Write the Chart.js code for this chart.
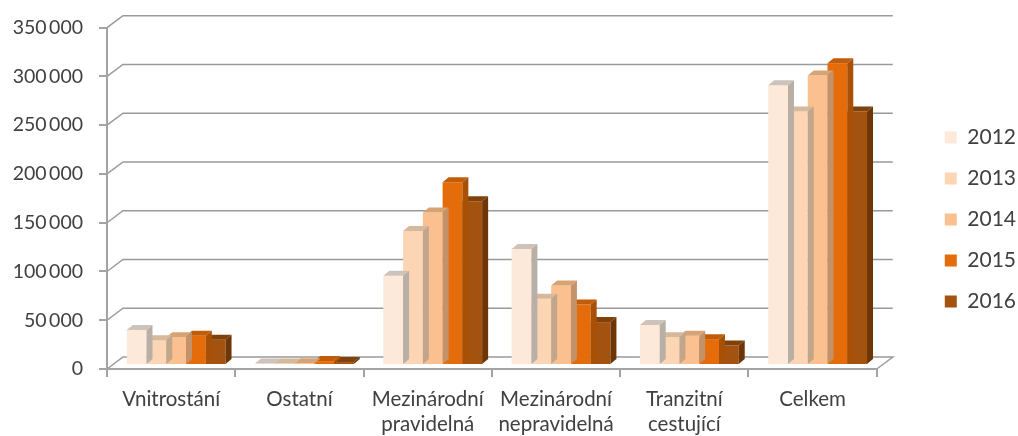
<!DOCTYPE html>
<html>
<head>
<meta charset="utf-8">
<script src="https://cdn.jsdelivr.net/npm/chart.js@4.4.1/dist/chart.umd.min.js"></script>
<style>
  html, body { margin: 0; padding: 0; background: #ffffff; }
  #wrap { width: 1018px; height: 436px; position: relative; }
</style>
</head>
<body>
<div id="wrap"><canvas id="chart" width="1018" height="436"></canvas></div>
<script>
// Passenger numbers by category and year
const categories = [
  ['Vnitrostání'],
  ['Ostatní'],
  ['Mezinárodní', 'pravidelná'],
  ['Mezinárodní', 'nepravidelná'],
  ['Tranzitní', 'cestující'],
  ['Celkem']
];
const years = ['2012', '2013', '2014', '2015', '2016'];
const values2012 = [36000, 1500, 91500, 119000, 41000, 287000];
const values2013 = [25500, 1500, 137500, 68000, 28500, 260000];
const values2014 = [28500, 1800, 156500, 81500, 30000, 297000];
const values2015 = [30000, 4000, 187500, 62000, 26500, 309500];
const values2016 = [26000, 3000, 168000, 44000, 20000, 260000];
const yMin = 0;
const yMax = 350000;
const yStep = 50000;

const seriesValues = [values2012, values2013, values2014, values2015, values2016];

// Front, top and side face colours of the 3D columns
const frontColors = ['#fde9d9', '#fcd5b4', '#fac08f', '#e46c0a', '#a3530f'];
const topColors   = ['#cdc3ba', '#d6b89c', '#d7a375', '#c25c08', '#80410a'];
const sideColors  = ['#b8afa7', '#c2a68c', '#c49268', '#a85006', '#6e3606'];

const FONT = 'Lato, "Open Sans", sans-serif';
const TEXT = '#404040';
const AXIS = '#a3a3a3';
const GRID = '#9a9a9a';

// Oblique projection offsets
const WALL = { x: 16, y: -12 };     // back wall relative to the front axis plane
const SHIFT = { x: 5, y: -4 };      // front face of the columns
const DEPTH = { x: 6, y: -5 };      // column depth
const LEGEND_NUDGE = { x: 8, y: -11 };

const threeD = {
  id: 'threeD',
  afterLayout(chart) {
    const lg = chart.legend;
    if (!lg) return;
    lg.left += LEGEND_NUDGE.x; lg.right += LEGEND_NUDGE.x;
    lg.top += LEGEND_NUDGE.y; lg.bottom += LEGEND_NUDGE.y;
  },
  beforeDraw(chart) {
    const { ctx, chartArea } = chart;
    const ys = chart.scales.y;
    ctx.save();
    ctx.strokeStyle = GRID;
    ctx.lineWidth = 1.5;
    ys.ticks.forEach(t => {
      const y = ys.getPixelForValue(t.value);
      ctx.beginPath();
      ctx.moveTo(chartArea.left, y);
      ctx.lineTo(chartArea.left + WALL.x, y + WALL.y);
      ctx.lineTo(chartArea.right + WALL.x, y + WALL.y);
      if (t.value === yMin) ctx.lineTo(chartArea.right, y);
      ctx.stroke();
    });
    ctx.restore();
  },
  beforeDatasetsDraw(chart) {
    chart.ctx.save();
    chart.ctx.translate(SHIFT.x, SHIFT.y);
  },
  afterDatasetDraw(chart, args) {
    const ctx = chart.ctx;
    const i = args.index;
    args.meta.data.forEach(bar => {
      const { x, y, base, width } = bar.getProps(['x', 'y', 'base', 'width'], true);
      const x0 = x - width / 2, x1 = x + width / 2;
      ctx.fillStyle = topColors[i];
      ctx.beginPath();
      ctx.moveTo(x0, y);
      ctx.lineTo(x0 + DEPTH.x, y + DEPTH.y);
      ctx.lineTo(x1 + DEPTH.x, y + DEPTH.y);
      ctx.lineTo(x1, y);
      ctx.closePath();
      ctx.fill();
      ctx.fillStyle = sideColors[i];
      ctx.beginPath();
      ctx.moveTo(x1, y);
      ctx.lineTo(x1 + DEPTH.x, y + DEPTH.y);
      ctx.lineTo(x1 + DEPTH.x, base + DEPTH.y);
      ctx.lineTo(x1, base);
      ctx.closePath();
      ctx.fill();
    });
  },
  afterDatasetsDraw(chart) {
    chart.ctx.restore();
  }
};

const fmt = v => String(v).replace(/\B(?=(\d{3})+(?!\d))/g, '\u2009');

new Chart(document.getElementById('chart'), {
  type: 'bar',
  data: {
    labels: categories,
    datasets: years.map((yr, i) => ({
      label: yr,
      data: seriesValues[i],
      backgroundColor: frontColors[i],
      borderWidth: 0,
      barPercentage: 1,
      categoryPercentage: 0.77,
      clip: false
    }))
  },
  options: {
    responsive: false,
    animation: false,
    devicePixelRatio: 1,
    layout: { padding: { top: 25, bottom: 0, left: 0, right: 0 } },
    plugins: {
      tooltip: { enabled: false },
      legend: {
        position: 'right',
        align: 'center',
        labels: {
          boxWidth: 12,
          boxHeight: 12,
          padding: 20,
          color: TEXT,
          font: { family: FONT, size: 21 }
        }
      }
    },
    scales: {
      x: {
        offset: true,
        grid: { offset: true, drawOnChartArea: false, drawTicks: true, tickLength: 8, color: AXIS, lineWidth: 2 },
        border: { color: AXIS, width: 2 },
        ticks: { color: TEXT, font: { family: FONT, size: 20.5, lineHeight: 1.22 }, padding: 10, maxRotation: 0, autoSkip: false },
        afterFit(s) { s.height = 67; }
      },
      y: {
        min: yMin,
        max: yMax,
        grid: { drawOnChartArea: false, drawTicks: true, tickLength: 8, color: AXIS, lineWidth: 2 },
        border: { color: AXIS, width: 2 },
        ticks: { stepSize: yStep, color: TEXT, font: { family: FONT, size: 19.5 }, padding: 16, callback: v => fmt(v) },
        afterFit(s) { s.width = 107; }
      },
      yR: {
        type: 'linear',
        position: 'right',
        display: true,
        grid: { display: false },
        border: { display: false },
        ticks: { display: false },
        afterFit(s) { s.width = 40; }
      }
    }
  },
  plugins: [threeD]
});
</script>
</body>
</html>
